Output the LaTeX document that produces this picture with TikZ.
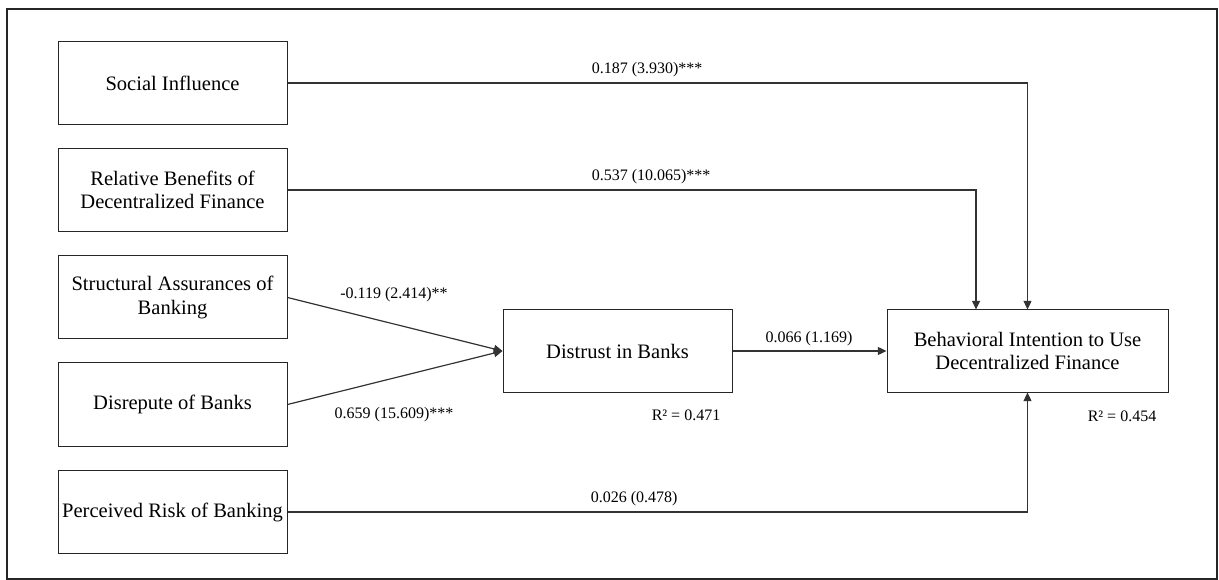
\documentclass[tikz,border=0pt]{standalone}
\usepackage{fontspec}
\setmainfont{Liberation Serif}
\usetikzlibrary{arrows.meta}
\tikzset{
  box/.style={draw=black!85, line width=0.75pt, minimum width=171.75pt, minimum height=62.25pt, inner sep=0pt, align=center, font=\fontsize{15.4}{17.5}\selectfont},
  lbl/.style={inner sep=0pt, font=\fontsize{12}{14}\selectfont},
  conn/.style={draw=black!80, line width=0.9pt, -{Triangle[length=6.5pt,width=6pt]}},
}
\begin{document}
\begin{tikzpicture}[x=0.75pt, y=-0.75pt]
\useasboundingbox (0,0) rectangle (1219,580);
\draw[line width=1.2pt, black!85] (7,9) rectangle (1217,579);
% left column
\node[box] (si) at (172.5,83) {Social Influence};
\node[box] (rb) at (172.5,190) {Relative Benefits of\\Decentralized Finance};
\node[box] (sa) at (172.5,297.5) {Structural Assurances of\\Banking};
\node[box] (dr) at (172.5,404.5) {Disrepute of Banks};
\node[box] (pr) at (172.5,512) {Perceived Risk of Banking};
% middle and right
\node[box, minimum height=61.5pt] (db) at (617.5,351) {Distrust in Banks};
\node[box, minimum width=210.75pt, minimum height=61.5pt] (bi) at (1027.5,351) {Behavioral Intention to Use\\Decentralized Finance};
% connectors
\draw[conn] (si.east) -| (bi.north);
\draw[conn] (rb.east) -| ([xshift=-38.6pt]bi.north);
\draw[conn] (sa.east) -- (db.west);
\draw[conn] (dr.east) -- (db.west);
\draw[conn] (db.east) -- (bi.west);
\draw[conn] (pr.east) -| (bi.south);
% labels
\node[lbl, anchor=west] (l1) at (591.5,70) {0.187 (3.930)***};
\node[lbl, anchor=west] (l2) at (591.5,177) {0.537 (10.065)***};
\node[lbl] (l3) at (394,295) {-0.119 (2.414)**};
\node[lbl] (l4) at (394,415) {0.659 (15.609)***};
\node[lbl] (l5) at (809,338.5) {0.066 (1.169)};
\node[lbl, anchor=west] (l6) at (590.5,499) {0.026 (0.478)};
\node[lbl] (r1) at (686,415) {R² = 0.471};
\node[lbl] (r2) at (1122,416) {R² = 0.454};
\end{tikzpicture}
\end{document}
